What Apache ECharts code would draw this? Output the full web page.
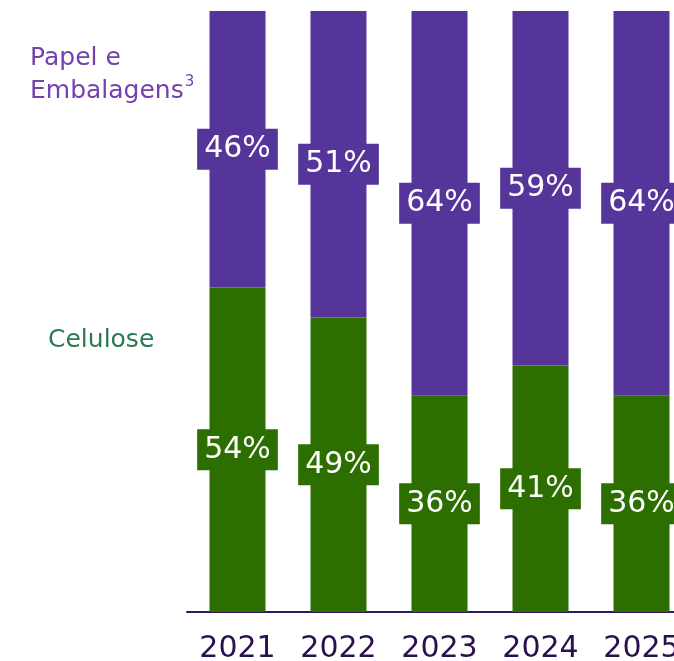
<!DOCTYPE html>
<html>
<head>
  <meta charset="utf-8" />
  <script src="https://cdn.jsdelivr.net/npm/echarts@6/dist/echarts.min.js"></script>
  <style>
    body { margin: 0; padding: 0; overflow: hidden; background: #fff; }
  </style>
</head>
<body>
  <div id="main" style="width: 674px; height: 661px;"></div>
  <script type="text/javascript">
    const years = ['2021', '2022', '2023', '2024', '2025'];
    const celulose = [54, 49, 36, 41, 36];
    const papel = [46, 51, 64, 59, 64];

    const purple = '#55359a';
    const green = '#2d6e00';
    const font = 'DejaVu Sans';

    const chart = echarts.init(document.getElementById('main'));

    function barLabel(color) {
      return {
        show: true,
        position: 'inside',
        formatter: '{c}%',
        color: '#fff',
        fontSize: 30,
        fontFamily: font,
        backgroundColor: color,
        padding: [3, 7, 0, 7],
        lineHeight: 38
      };
    }

    const option = {
      animation: false,
      // last bar runs off the right edge, as in the source slide
      grid: { left: 187, width: 505, top: 11, bottom: 49, outerBoundsMode: 'none', containLabel: false },
      xAxis: {
        type: 'category',
        data: years,
        axisLine: { show: true, lineStyle: { color: '#2e1a5a', width: 2 } },
        axisTick: { show: false },
        axisLabel: {
          interval: 0,
          hideOverlap: false,
          color: '#2b1050',
          fontSize: 30,
          fontFamily: font,
          margin: 22
        }
      },
      yAxis: {
        type: 'value',
        min: 0,
        max: 100,
        show: false,
        splitLine: { show: false }
      },
      graphic: [
        {
          type: 'text', left: 30, top: 46,
          style: {
            text: '{a|Papel e}\n{a|Embalagens}{s|3}',
            rich: {
              a: { fill: '#7440ad', fontSize: 25, lineHeight: 33, fontFamily: font },
              s: { fill: '#7440ad', fontSize: 15, lineHeight: 33, fontFamily: font, verticalAlign: 'top', padding: [0, 0, 8, 1] }
            }
          }
        },
        {
          type: 'text', left: 48, top: 328,
          style: { text: 'Celulose', fill: '#2a7a52', fontSize: 25, fontFamily: font }
        }
      ],
      series: [
        {
          name: 'Celulose',
          type: 'bar',
          stack: 'total',
          barWidth: 56,
          data: celulose,
          itemStyle: { color: green },
          label: barLabel(green)
        },
        {
          name: 'Papel e Embalagens',
          type: 'bar',
          stack: 'total',
          barWidth: 56,
          data: papel,
          itemStyle: { color: purple },
          label: barLabel(purple)
        }
      ]
    };

    chart.setOption(option);
  </script>
</body>
</html>
